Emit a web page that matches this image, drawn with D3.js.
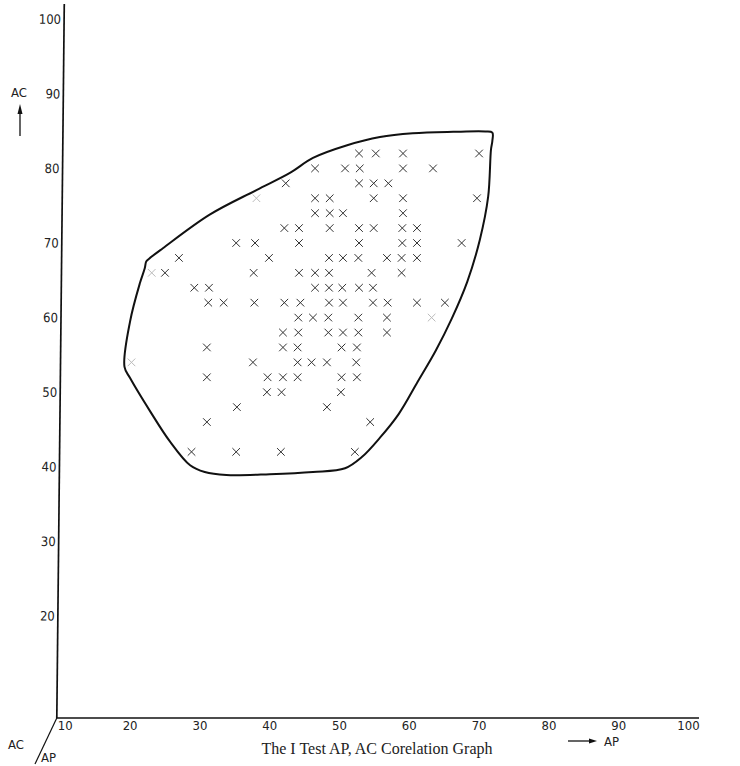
<!DOCTYPE html>
<html>
<head>
<meta charset="utf-8">
<script src="https://cdn.jsdelivr.net/npm/d3@7"></script>
<style>
body { margin: 0; background: #fff; }
svg { display: block; }
</style>
</head>
<body>
<svg width="740" height="766"></svg>
<script>
// data - AP (x) and AC (y) of each pupil, row by row from top
const apScores = [
    53.3, 55.7, 59.6, 70.5,
    47.0, 51.3, 53.4, 59.6, 63.9,
    42.8, 53.3, 55.4, 57.5,
    47.0, 49.1, 55.4, 59.6, 70.2,
    47.0, 49.1, 51.0, 59.6,
    42.6, 44.7, 49.1, 53.3, 55.4, 59.5, 61.6,
    35.7, 38.4, 44.7, 53.3, 59.5, 61.6, 68.0,
    27.5, 40.4, 49.0, 51.0, 53.2, 57.3, 59.4, 61.6,
    25.5, 38.2, 44.7, 47.0, 49.0, 55.1, 59.4,
    29.7, 31.8, 47.0, 49.0, 50.9, 53.3, 55.3,
    31.7, 33.9, 38.3, 42.6, 44.9, 49.0, 51.0, 55.3, 57.4, 61.6, 65.6,
    44.6, 46.7, 48.9, 53.2, 57.3,
    42.4, 44.6, 48.9, 51.0, 53.2, 57.3,
    31.5, 42.4, 44.5, 50.8, 53.0,
    38.1, 44.5, 46.5, 48.7, 52.9,
    31.5, 40.2, 42.4, 44.5, 50.8, 53.0,
    40.1, 42.2, 50.7,
    35.8, 48.7,
    31.5, 54.9,
    29.3, 35.7, 42.1, 52.7
];
const acScores = [
    82, 82, 82, 82,
    80, 80, 80, 80, 80,
    78, 78, 78, 78,
    76, 76, 76, 76, 76,
    74, 74, 74, 74,
    72, 72, 72, 72, 72, 72, 72,
    70, 70, 70, 70, 70, 70, 70,
    68, 68, 68, 68, 68, 68, 68, 68,
    66, 66, 66, 66, 66, 66, 66,
    64, 64, 64, 64, 64, 64, 64,
    62, 62, 62, 62, 62, 62, 62, 62, 62, 62, 62,
    60, 60, 60, 60, 60,
    58, 58, 58, 58, 58, 58,
    56, 56, 56, 56, 56,
    54, 54, 54, 54, 54,
    52, 52, 52, 52, 52, 52,
    50, 50, 50,
    48, 48,
    46, 46,
    42, 42, 42, 42
];
// marks that hardly printed
const faintAP = [38.6, 23.6, 63.7, 20.7];
const faintAC = [76, 66, 60, 54];

// outline round the cloud (clockwise from the left corner)
const hullAP = [19.7, 20.5, 21.9, 22.6, 22.8, 23.1, 25.2, 31.9, 38.6, 43.4, 46.7, 51.6, 56.3, 61.0, 66.8, 71.4, 72.4,
    72.4, 72.2, 71.8, 70.6, 68.8, 66.6, 64.3, 61.7, 59.0, 56.3, 53.7, 51.3, 46.7, 40.5, 34.3, 31.2, 29.1, 26.2, 23.4, 20.5];
const hullAC = [53.4, 59.5, 64.6, 66.6, 67.5, 67.8, 69.3, 73.8, 77.1, 79.4, 81.4, 83.1, 84.2, 84.7, 84.9, 84.95, 84.8,
    83.7, 82.5, 76.2, 70.4, 64.8, 59.9, 55.6, 51.4, 47.1, 43.9, 41.3, 39.8, 39.3, 39.0, 38.9, 39.3, 40.2, 43.4, 47.4, 51.9];

const xTicks = [10, 20, 30, 40, 50, 60, 70, 80, 90, 100];
const yTicks = [20, 30, 40, 50, 60, 70, 80, 90, 100];

const numFont = '"Liberation Sans Narrow", "DejaVu Sans Condensed", sans-serif';

const svg = d3.select("svg");
const originX = 56.8, originY = 718;

const x = d3.scaleLinear().domain([10, 100]).range([originX, 685]);
const y = d3.scaleLinear().domain([20, 100]).range([616, 19.2]);

// y axis, leaning a little to the right like the print
const yAxisG = svg.append("g")
    .attr("transform", `translate(${originX},0) rotate(0.6,0,${originY})`);
yAxisG.call(d3.axisLeft(y).tickValues(yTicks).tickSize(0).tickPadding(3));
yAxisG.select(".domain").remove();
yAxisG.append("line")
    .attr("x1", 0).attr("y1", originY).attr("x2", 0).attr("y2", 4)
    .attr("stroke", "#111").attr("stroke-width", 1.7);
yAxisG.selectAll(".tick text")
    .style("font-family", numFont).style("font-size", "13px").attr("fill", "#222");

// x axis
const xAxisG = svg.append("g").attr("transform", `translate(0,${originY})`);
xAxisG.call(d3.axisBottom(x).tickValues(xTicks).tickSize(0).tickPadding(3));
xAxisG.select(".domain").remove();
xAxisG.append("line")
    .attr("x1", originX).attr("y1", 0).attr("x2", x(100) + 14).attr("y2", 0)
    .attr("stroke", "#111").attr("stroke-width", 1.7);
xAxisG.selectAll(".tick text")
    .style("font-family", numFont).style("font-size", "13px").attr("fill", "#222")
    .attr("dx", d => d === 10 ? 8 : 3);

// outline
const hull = hullAP.map((d, i) => [d, hullAC[i]]);
svg.append("path")
    .datum(hull)
    .attr("d", d3.line().x(d => x(d[0])).y(d => y(d[1])).curve(d3.curveCatmullRomClosed.alpha(0.5)))
    .attr("fill", "none")
    .attr("stroke", "#111")
    .attr("stroke-width", 2);

// cross marks
function crosses(aps, acs, cls, col) {
    const r = 3.8;
    const g = svg.append("g").attr("class", cls)
        .selectAll("g").data(aps.map((d, i) => [d, acs[i]]))
        .enter().append("g")
        .attr("transform", d => `translate(${x(d[0])},${y(d[1])})`);
    g.append("line").attr("x1", -r).attr("y1", -r).attr("x2", r).attr("y2", r);
    g.append("line").attr("x1", -r).attr("y1", r).attr("x2", r).attr("y2", -r);
    g.selectAll("line").attr("stroke", col).attr("stroke-width", 1);
}
crosses(apScores, acScores, "marks", "#333");
crosses(faintAP, faintAC, "faint", "#bbb");

// axis names
svg.append("text").attr("x", 19).attr("y", 97).attr("text-anchor", "middle")
    .style("font-family", numFont).style("font-size", "13px").attr("fill", "#222").text("AC");
svg.append("line").attr("x1", 20).attr("y1", 136).attr("x2", 20).attr("y2", 112)
    .attr("stroke", "#111").attr("stroke-width", 1.3);
svg.append("path").attr("d", "M20,104 L17.5,114 L22.5,114 Z").attr("fill", "#111");

const arrowY = originY + 23;
svg.append("line").attr("x1", 568).attr("y1", arrowY).attr("x2", 592).attr("y2", arrowY)
    .attr("stroke", "#111").attr("stroke-width", 1.3);
svg.append("path").attr("d", `M597,${arrowY} L589,${arrowY - 2.5} L589,${arrowY + 2.5} Z`).attr("fill", "#111");
svg.append("text").attr("x", 604).attr("y", arrowY + 5)
    .style("font-family", numFont).style("font-size", "13px").attr("fill", "#222").text("AP");

// corner: AC / AP
svg.append("line").attr("x1", originX).attr("y1", originY).attr("x2", 35).attr("y2", originY + 46)
    .attr("stroke", "#111").attr("stroke-width", 1.2);
svg.append("text").attr("x", 8).attr("y", originY + 31)
    .style("font-family", numFont).style("font-size", "13px").attr("fill", "#222").text("AC");
svg.append("text").attr("x", 41).attr("y", originY + 44)
    .style("font-family", numFont).style("font-size", "13px").attr("fill", "#222").text("AP");

// title
svg.append("text").attr("x", 377).attr("y", originY + 36).attr("text-anchor", "middle")
    .style("font-family", '"Liberation Serif", "DejaVu Serif", serif').style("font-size", "16px")
    .attr("fill", "#222").text("The I Test AP, AC Corelation Graph");
</script>
</body>
</html>
